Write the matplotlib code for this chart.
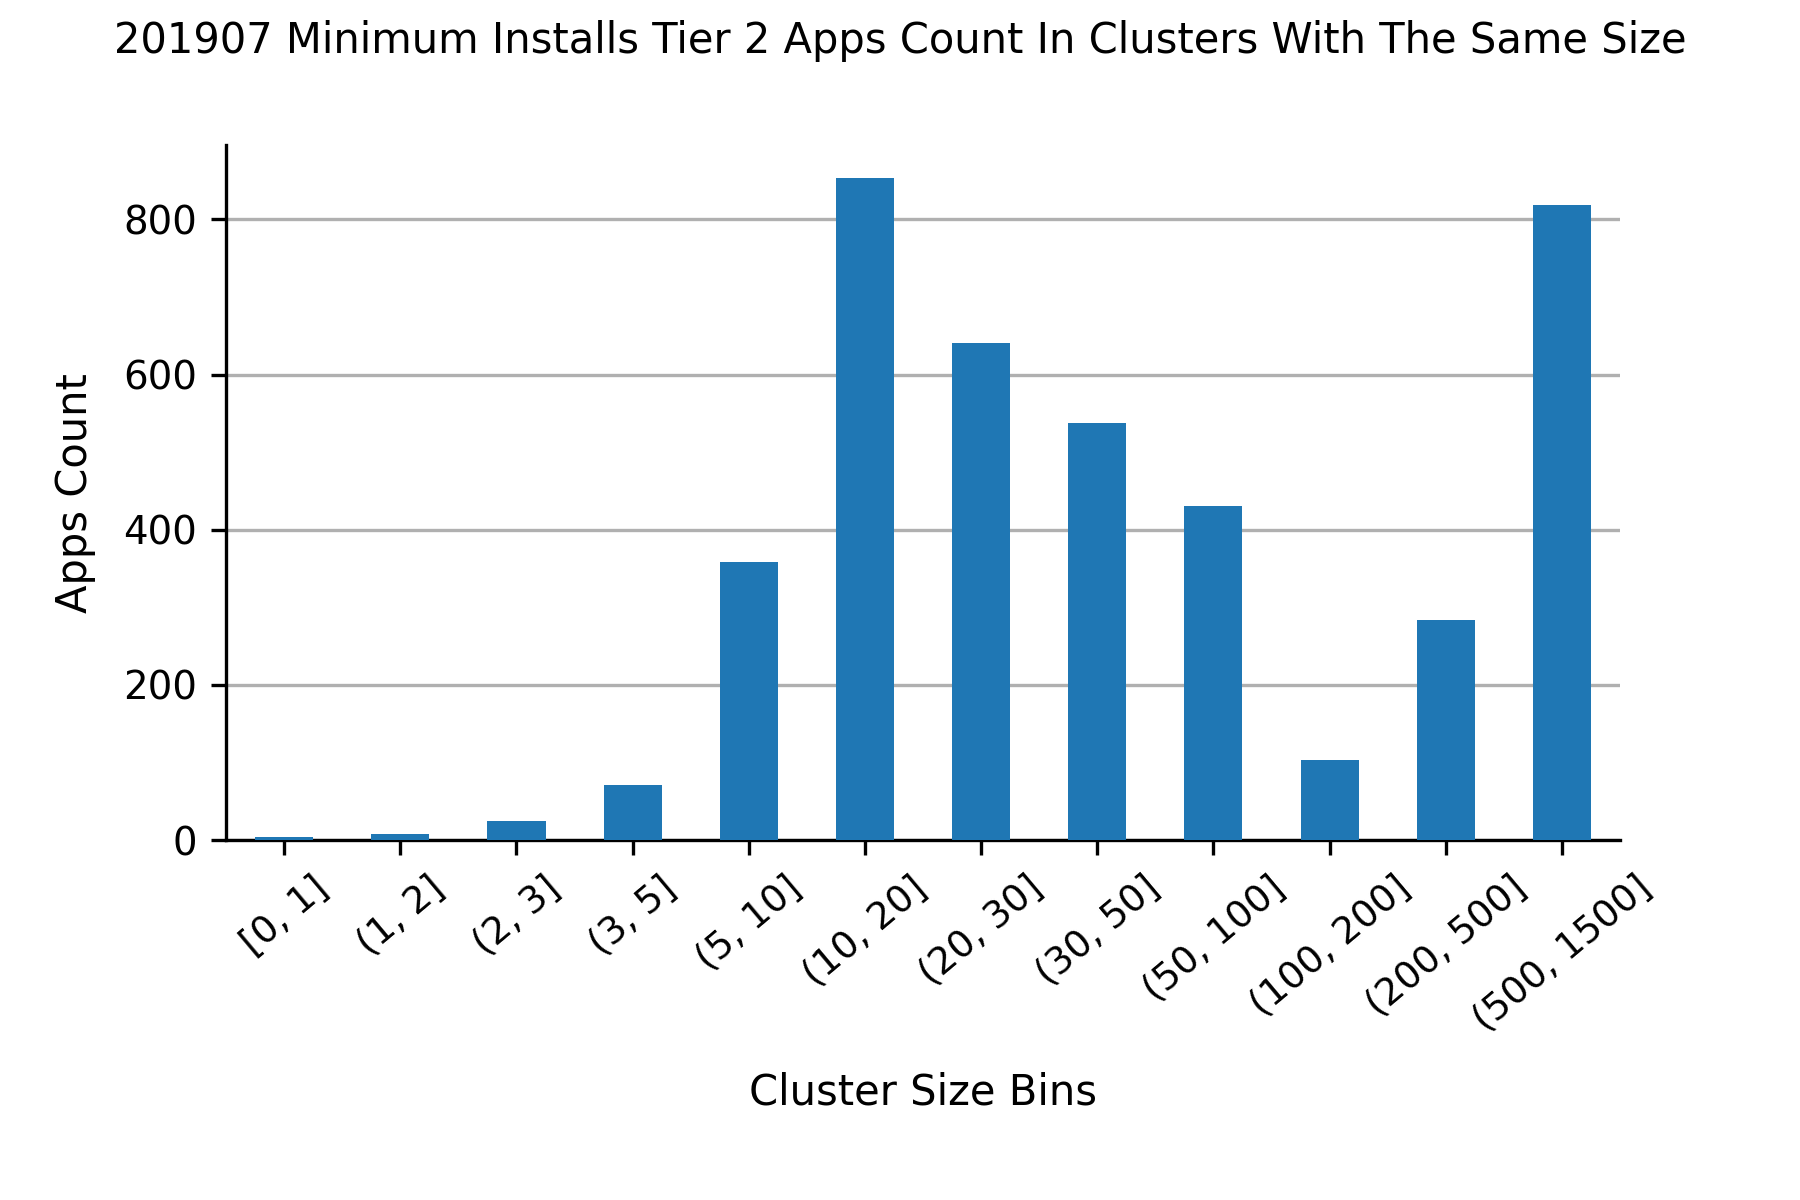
import numpy as np
import matplotlib
matplotlib.use('Agg')
from matplotlib import pyplot as plt

# cluster size bins and how many tier 2 apps fall in each
bins = ['[0, 1]', '(1, 2]', '(2, 3]', '(3, 5]', '(5, 10]', '(10, 20]',
        '(20, 30]', '(30, 50]', '(50, 100]', '(100, 200]', '(200, 500]',
        '(500, 1500]']
counts = [4, 8, 24, 71, 358, 853, 641, 537, 431, 103, 283, 818]

fig, ax = plt.subplots(figsize=(6, 4), dpi=300)
fig.subplots_adjust(left=0.1256, right=0.9, bottom=0.3, top=0.879)

x = np.arange(len(bins))
ax.bar(x, counts, width=0.5, color='#1f77b4', zorder=3)
ax.set_xlim(-0.5, len(bins) - 0.5)
ax.set_xticks(x)
ax.set_xticklabels(bins, rotation=40, fontsize=9)
ax.tick_params(axis='y', labelsize=9.3)
ax.set_yticks([0, 200, 400, 600, 800])
ax.yaxis.grid(True, color='#b0b0b0', linewidth=0.8, zorder=0)
ax.set_axisbelow(True)
for s in ['top', 'right']:
    ax.spines[s].set_visible(False)

ax.set_xlabel('Cluster Size Bins', fontsize=10, labelpad=8)
ax.set_ylabel('Apps Count', fontsize=10, labelpad=6.5)
fig.suptitle('201907 Minimum Installs Tier 2 Apps Count In Clusters With The Same Size',
             fontsize=10, y=0.966, va='center')

fig.savefig('out.png', dpi=300)
